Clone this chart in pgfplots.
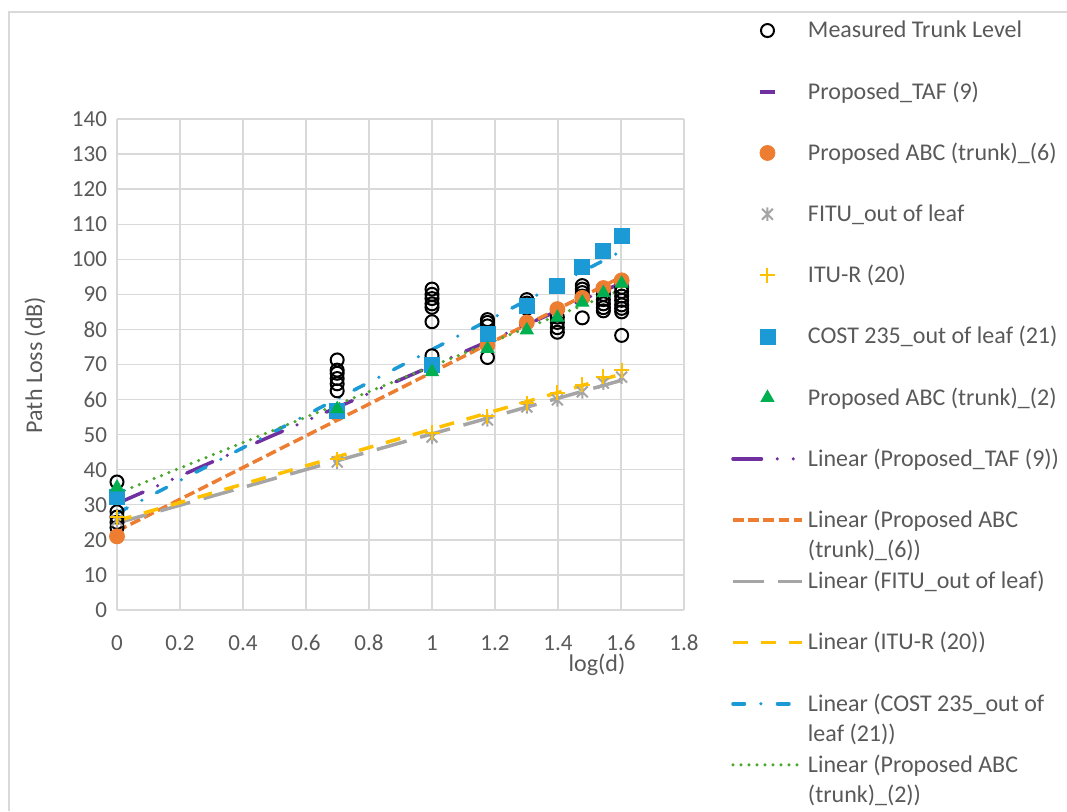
\documentclass[border=0pt]{standalone}
\usepackage{pgfplots}
\pgfplotsset{compat=1.18}
\usepackage{pgfplotstable}
\usepackage{fontspec}
\setmainfont{Carlito}

\definecolor{txtgrey}{HTML}{595959}
\definecolor{gridgrey}{HTML}{D9D9D9}
\definecolor{framegrey}{HTML}{D9D9D9}
\definecolor{cpurple}{HTML}{7030A0}
\definecolor{corange}{HTML}{ED7D31}
\definecolor{cgrey}{HTML}{A5A5A5}
\definecolor{cgold}{HTML}{FFC000}
\definecolor{cblue}{HTML}{1B9AD6}
\definecolor{cgreen}{HTML}{00B050}
\definecolor{cgreenline}{HTML}{4EA72E}

% "x with a vertical bar" marker
\pgfdeclareplotmark{starx}{%
  \pgfpathmoveto{\pgfqpoint{0pt}{\pgfplotmarksize}}%
  \pgfpathlineto{\pgfqpoint{0pt}{-\pgfplotmarksize}}%
  \pgfpathmoveto{\pgfqpoint{-0.8\pgfplotmarksize}{-0.8\pgfplotmarksize}}%
  \pgfpathlineto{\pgfqpoint{0.8\pgfplotmarksize}{0.8\pgfplotmarksize}}%
  \pgfpathmoveto{\pgfqpoint{-0.8\pgfplotmarksize}{0.8\pgfplotmarksize}}%
  \pgfpathlineto{\pgfqpoint{0.8\pgfplotmarksize}{-0.8\pgfplotmarksize}}%
  \pgfusepathqstroke}

% model predictions at log10 of the distances 1, 5, 10, 15, ..., 40 m
\pgfplotstableread{
x        taf   abcsix fitu  itu   cost   abctwo
0        30.5  21.0   25.5  26.5  32.2   35.0
0.69897  57.5  56.0   42.2  43.0  56.9   57.3
1        69.5  69.0   49.3  50.5  69.9   67.9
1.17609  76.5  75.5   54.2  55.3  78.8   74.5
1.30103  81.5  82.0   57.9  59.0  86.8   79.8
1.39794  85.5  85.8   59.9  61.9  92.5   83.4
1.47712  88.5  89.0   62.2  64.2  97.7   87.7
1.54407  91.0  91.8   64.7  66.5  102.5  90.4
1.60206  93.0  94.0   66.4  68.4  106.8  93.1
}\models

% measured path loss at trunk level
\pgfplotstableread{
x        y
0        36.5
0        28.0
0        26.5
0        25.0
0        23.5
0.69897  71.3
0.69897  68.4
0.69897  67.5
0.69897  66.0
0.69897  64.5
0.69897  62.5
1        91.5
1        90.0
1        88.8
1        87.3
1        86.3
1        82.2
1        72.5
1.17609  82.8
1.17609  82.0
1.17609  81.0
1.17609  72.0
1.30103  88.5
1.30103  87.5
1.30103  86.0
1.39794  83.5
1.39794  82.0
1.39794  80.5
1.39794  79.2
1.47712  92.5
1.47712  91.5
1.47712  90.5
1.47712  89.5
1.47712  83.3
1.54407  90.0
1.54407  88.5
1.54407  87.3
1.54407  86.2
1.54407  85.3
1.60206  92.0
1.60206  90.8
1.60206  89.5
1.60206  88.3
1.60206  87.0
1.60206  86.0
1.60206  85.0
1.60206  78.3
}\measured

% legend entries: fixed row height, second line hangs below
\newcommand{\legone}[1]{\rule{0pt}{27.6pt}#1}
\newcommand{\legtwo}[2]{\rule{0pt}{27.6pt}\raisebox{0pt}[\height][0pt]{\begin{tabular}[t]{@{}l@{}}#1\\#2\end{tabular}}}

% legend samples share one tiny bounding box, drawn level with the text
\newcommand{\legbox}{\pgfpathrectangle{\pgfpoint{0pt}{-0.3pt}}{\pgfpoint{34.5pt}{0.6pt}}\pgfusepath{use as bounding box}}
\pgfplotsset{
  markleg/.style={legend image code/.code={\legbox
    \draw[##1] plot coordinates {(17.25pt,-8.6pt)};}},
  lineleg/.style={legend image code/.code={\legbox
    \draw[##1] (0pt,-8.6pt) -- (34.5pt,-8.6pt);}},
  trend/.style={no markers, line width=1.75pt, lineleg},
}

\begin{document}
\begin{tikzpicture}
\draw[framegrey, line width=0.75pt] (4.5pt,0pt) -- (4.5pt,399.5pt) -- (533.5pt,399.5pt);
\begin{axis}[
  at={(58.5pt,100.5pt)}, anchor=south west,
  scale only axis, width=283.5pt, height=245.5pt,
  xmin=0, xmax=1.8, ymin=0, ymax=140,
  xtick={0,0.2,0.4,0.6,0.8,1,1.2,1.4,1.6,1.8},
  ytick={0,10,...,140},
  grid=major,
  major grid style={draw=gridgrey, line width=0.7pt},
  axis line style={draw=none},
  major tick length=0pt,
  clip=false,
  /pgf/number format/assume math mode=true,
  tick label style={font=\fontsize{11.5}{14}\selectfont, text=txtgrey},
  xticklabel style={anchor=center, yshift=-16.5pt},
  yticklabel style={xshift=-1.5pt},
  label style={font=\fontsize{12}{15}\selectfont, text=txtgrey},
  xlabel={log(d)}, ylabel={Path Loss (dB)},
  xlabel style={at={(axis description cs:0.8466,-0.112)}, anchor=center},
  ylabel style={at={(axis description cs:-0.1446,0.499)}, anchor=center},
  legend cell align=left,
  legend style={draw=none, fill=none, at={(axis description cs:1.0864,1.2775)},
    anchor=north west, inner sep=0pt, outer sep=0pt, row sep=0pt, column sep=3pt,
    nodes={inner sep=0pt, text depth=3pt, text=txtgrey, font=\fontsize{12}{15}\selectfont}},
]
% scatter series
\addplot[only marks, mark=o, mark size=3.25pt, draw=black, mark options={line width=1pt}, markleg]
  table[x=x, y=y] {\measured};
\addlegendentry{\legone{Measured Trunk Level}}
\addplot[only marks, mark=-, mark size=3.75pt, draw=cpurple, mark options={line width=1.75pt}, markleg]
  table[x=x, y=taf] {\models};
\addlegendentry{\legone{Proposed\_TAF (9)}}
\addplot[only marks, mark=*, mark size=3.75pt, draw=corange, fill=corange, markleg]
  table[x=x, y=abcsix] {\models};
\addlegendentry{\legone{Proposed ABC (trunk)\_(6)}}
\addplot[only marks, mark=starx, mark size=3.4pt, draw=cgrey, mark options={line width=1pt}, markleg]
  table[x=x, y=fitu] {\models};
\addlegendentry{\legone{FITU\_out of leaf}}
\addplot[only marks, mark=+, mark size=3.75pt, draw=cgold, mark options={line width=1pt}, markleg]
  table[x=x, y=itu] {\models};
\addlegendentry{\legone{ITU-R (20)}}
\addplot[only marks, mark=square*, mark size=3.75pt, draw=cblue, fill=cblue, markleg]
  table[x=x, y=cost] {\models};
\addlegendentry{\legone{COST 235\_out of leaf (21)}}
\addplot[only marks, mark=triangle*, mark size=3.75pt, draw=cgreen, fill=cgreen, markleg]
  table[x=x, y=abctwo] {\models};
\addlegendentry{\legone{Proposed ABC (trunk)\_(2)}}
% least-squares trend lines
\addplot[trend, cpurple, line cap=round, dash pattern=on 14.25pt off 7.9pt on 0pt off 8pt on 0pt off 7.9pt]
  table[x=x, y={create col/linear regression={y=taf}}] {\models};
\addlegendentry{\legone{Linear (Proposed\_TAF (9))}}
\addplot[trend, corange, dash pattern=on 5.3pt off 2.3pt]
  table[x=x, y={create col/linear regression={y=abcsix}}] {\models};
\addlegendentry{\legtwo{Linear (Proposed ABC}{(trunk)\_(6))}}
\addplot[trend, cgrey, dash pattern=on 15.5pt off 7pt]
  table[x=x, y={create col/linear regression={y=fitu}}] {\models};
\addlegendentry{\legone{Linear (FITU\_out of leaf)}}
\addplot[trend, cgold, dash pattern=on 7.5pt off 6.5pt]
  table[x=x, y={create col/linear regression={y=itu}}] {\models};
\addlegendentry{\legone{Linear (ITU-R (20))}}
\addplot[trend, cblue, line cap=round, dash pattern=on 5.75pt off 8.25pt on 0pt off 8.25pt]
  table[x=x, y={create col/linear regression={y=cost}}] {\models};
\addlegendentry{\legtwo{Linear (COST 235\_out of}{leaf (21))}}
\addplot[trend, cgreenline, line width=1.75pt, line cap=round, dash pattern=on 0pt off 4pt]
  table[x=x, y={create col/linear regression={y=abctwo}}] {\models};
\addlegendentry{\legtwo{Linear (Proposed ABC}{(trunk)\_(2))}}
\end{axis}
\pgfresetboundingbox
\path[use as bounding box] (0pt,0pt) rectangle (533.5pt,405.5pt);
\end{tikzpicture}
\end{document}
